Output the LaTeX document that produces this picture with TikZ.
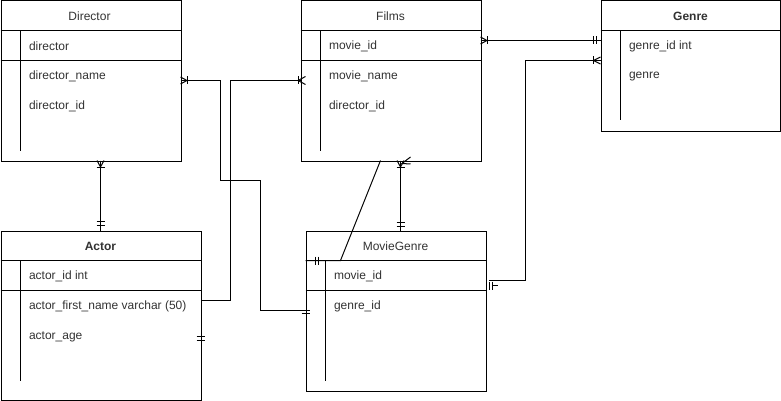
\documentclass[tikz,border=0pt]{standalone}
\usepackage{fontspec}
\setmainfont{Liberation Sans}
\tikzset{
  tbl/.style={draw, fill=white, rectangle, inner sep=0pt, anchor=north west},
  ttl/.style={font=\fontsize{12}{14}\selectfont, text=black!80, inner sep=0pt},
  fld/.style={anchor=west, font=\fontsize{12}{14}\selectfont, text=black!80, inner sep=0pt},
  conn/.style={line width=1pt, line join=miter},
  mk/.style={line width=1pt}
}
\begin{document}
\begin{tikzpicture}[x=1pt,y=-1pt,line width=1pt]
\useasboundingbox (0,0) rectangle (781,401);
\begin{scope}[shift={(0.5,0.5)}]
% ---------- tables ----------
\node[tbl, minimum width=180pt, minimum height=160pt] (dir) at (0,0) {};
\node[tbl, minimum width=180pt, minimum height=160pt] (films) at (300,0) {};
\node[tbl, minimum width=179pt, minimum height=130pt] (genre) at (600,0) {};
\node[tbl, minimum width=200pt, minimum height=169pt] (actor) at (0,230) {};
\node[tbl, minimum width=180pt, minimum height=160pt] (mg) at (305,230) {};

% Director
\draw (0,30) -- (180,30);
\draw (0,60) -- (180,60);
\draw (20,30) -- (20,150);
\node[ttl] (dirt) at (89,16) {Director};
\node[fld] (d1) at (28,46) {director};
\node[fld] (d2) at (28,76) {director\_name};
\node[fld] (d3) at (28,106) {director\_id};

% Films
\draw (300,30) -- (480,30);
\draw (300,60) -- (480,60);
\draw (320,30) -- (320,150);
\node[ttl] (filmst) at (390,16) {Films};
\node[fld] (f1) at (328,46) {movie\_id};
\node[fld] (f2) at (328,76) {movie\_name};
\node[fld] (f3) at (328,106) {director\_id};

% Genre
\draw (600,30) -- (779,30);
\draw (620,30) -- (620,120);
\node[ttl, font=\fontsize{12}{14}\selectfont\bfseries] (genret) at (690,16) {Genre};
\node[fld] (g1) at (628,46) {genre\_id int};
\node[fld] (g2) at (628,76) {genre};

% Actor
\draw (0,260) -- (200,260);
\draw (0,290) -- (200,290);
\draw (20,260) -- (20,380);
\node[ttl, font=\fontsize{12}{14}\selectfont\bfseries] (actort) at (100,246) {Actor};
\node[fld] (a1) at (28,276) {actor\_id int};
\node[fld] (a2) at (28,306) {actor\_first\_name varchar (50)};
\node[fld] (a3) at (28,336) {actor\_age};

% MovieGenre
\draw (305,260) -- (485,260);
\draw (305,290) -- (485,290);
\draw (325,260) -- (325,380);
\node[ttl] (mgt) at (395,246) {MovieGenre};
\node[fld] (m1) at (333,276) {movie\_id};
\node[fld] (m2) at (333,306) {genre\_id};

% ---------- connectors ----------
% Director -- Actor
\coordinate (da1) at (100,160);
\coordinate (da2) at (100,230);
\draw[conn] (da1) -- (da2);
\draw[mk] (96.5,160) -- (100,166.5) -- (103.5,160);
\draw[mk] (96,167) -- (104,167);
\draw[mk] (96,221) -- (104,221);
\draw[mk] (96,225) -- (104,225);

% Director -- MovieGenre
\coordinate (dm1) at (180,80);
\coordinate (dm2) at (305,310);
\draw[conn] (dm1) -- (220,80) -- (220,180) -- (260,180) -- (260,310) -- (dm2);
\draw[mk] (180,76.5) -- (186.5,80) -- (180,83.5);
\draw[mk] (187,76) -- (187,84);
\draw[mk] (301,309.5) -- (309,309.5);
\draw[mk] (301,313) -- (309,313);

% Actor -- Films
\coordinate (af1) at (201,344);
\coordinate (af2) at (300,80);
\draw[conn] (af1) -- (201,300) -- (230,300) -- (230,80) -- (af2);
\draw[mk] (196,336) -- (204,336);
\draw[mk] (196,340) -- (204,340);
\draw[mk] (297.5,76) -- (297.5,84);
\draw[mk] (305,76) -- (297.5,80) -- (305,84);

% Films -- MovieGenre (vertical)
\coordinate (fm1) at (400,160);
\coordinate (fm2) at (400,230);
\draw[conn] (fm1) -- (fm2);
\draw[mk] (396.5,160) -- (400,166.5) -- (403.5,160);
\draw[mk] (396,167) -- (404,167);
\draw[mk] (410,156.5) -- (401.5,163) -- (410,163.5);
\draw[mk] (396,222) -- (404,222);
\draw[mk] (396,226) -- (404,226);

% Films -- MovieGenre (diagonal)
\coordinate (fd1) at (380,160);
\coordinate (fd2) at (305,260);
\draw[conn] (fd1) -- (340,260) -- (fd2);
\draw[mk] (314.5,256) -- (314.5,264);
\draw[mk] (318,256) -- (318,264);

% Films -- Genre
\coordinate (fg1) at (480,40);
\coordinate (fg2) at (600,40);
\draw[conn] (fg1) -- (fg2);
\draw[mk] (480,36.5) -- (486.5,40) -- (480,43.5);
\draw[mk] (487,36) -- (487,44);
\draw[mk] (592.5,36) -- (592.5,44);
\draw[mk] (596,36) -- (596,44);

% Genre -- MovieGenre
\coordinate (gm1) at (600,60);
\coordinate (gm2) at (488,280);
\draw[conn] (gm1) -- (525,60) -- (525,280) -- (gm2);
\draw[mk] (592.5,56) -- (592.5,64);
\draw[mk] (600,56.5) -- (593,60) -- (600,63.5);
\draw[mk] (488.5,281) -- (488.5,289);
\draw[mk] (491.5,281) -- (491.5,289);
\draw[mk] (491.5,284.5) -- (497,284.5);
\end{scope}
\end{tikzpicture}
\end{document}
